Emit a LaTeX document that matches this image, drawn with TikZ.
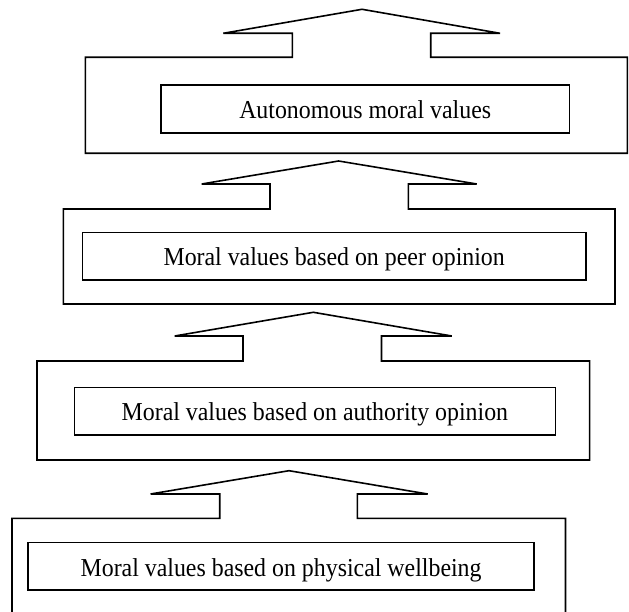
\documentclass[tikz,border=0pt]{standalone}
\usepackage{fontspec}
\setmainfont[FakeStretch=0.925]{Liberation Serif}
\begin{document}
\begin{tikzpicture}[x=1pt,y=-1pt,
  outline/.style={draw=black,line width=1.6pt},
  valuebox/.style={draw=black,line width=1.6pt,rectangle,inner sep=0pt,
    text height=19.4pt,text depth=0pt,font=\fontsize{25.8pt}{28pt}\selectfont}]
\useasboundingbox (0,0) rectangle (629,612);
\clip (0,0) rectangle (629,612);
% #1 tip x, #2 tip y, #3 wing y, #4 wing left, #5 wing right,
% #6 notch left, #7 notch right, #8 shoulder y, #9 outer left, #10 outer right, #11 outer bottom
\newcommand{\levelarrow}[9]{%
  \def\argA{#1}\def\argB{#2}\def\argC{#3}\def\argD{#4}\def\argE{#5}%
  \def\argF{#6}\def\argG{#7}\def\argH{#8}\def\argI{#9}%
  \levelarrowrest}
\newcommand{\levelarrowrest}[2]{%
  \draw[outline] (\argI,\argH) -- (\argF,\argH) -- (\argF,\argC) -- (\argD,\argC)
    -- (\argA,\argB) -- (\argE,\argC) -- (\argG,\argC) -- (\argG,\argH)
    -- (#1,\argH) -- (#1,#2) -- (\argI,#2) -- cycle;}
% level 1
\levelarrow{362}{9.3}{33.3}{223.3}{500}{292.3}{430.7}{57.3}{85.3}{627.3}{153.3}
\node[valuebox,minimum width=408.3pt,minimum height=47.7pt] (auto) at (365.2,108.9) {Autonomous moral values};
% level 2
\levelarrow{338.6}{161}{184}{201.7}{476.7}{270}{408.3}{209}{63.3}{615}{304}
\node[valuebox,minimum width=503.7pt,minimum height=47.7pt] (peer) at (334.2,256.2) {Moral values based on peer opinion};
% level 3
\levelarrow{313.3}{312.3}{336}{174.7}{451.8}{243}{381.5}{361}{37}{589.6}{460}
\node[valuebox,minimum width=481.1pt,minimum height=47.7pt] (authority) at (314.9,411.2) {Moral values based on authority opinion};
% level 4
\levelarrow{289}{470.7}{494}{150.6}{427.7}{219.7}{357.4}{518.3}{12}{565.5}{640}
\node[valuebox,minimum width=506pt,minimum height=47.3pt] (physical) at (281.1,566.3) {Moral values based on physical wellbeing};
\end{tikzpicture}
\end{document}
